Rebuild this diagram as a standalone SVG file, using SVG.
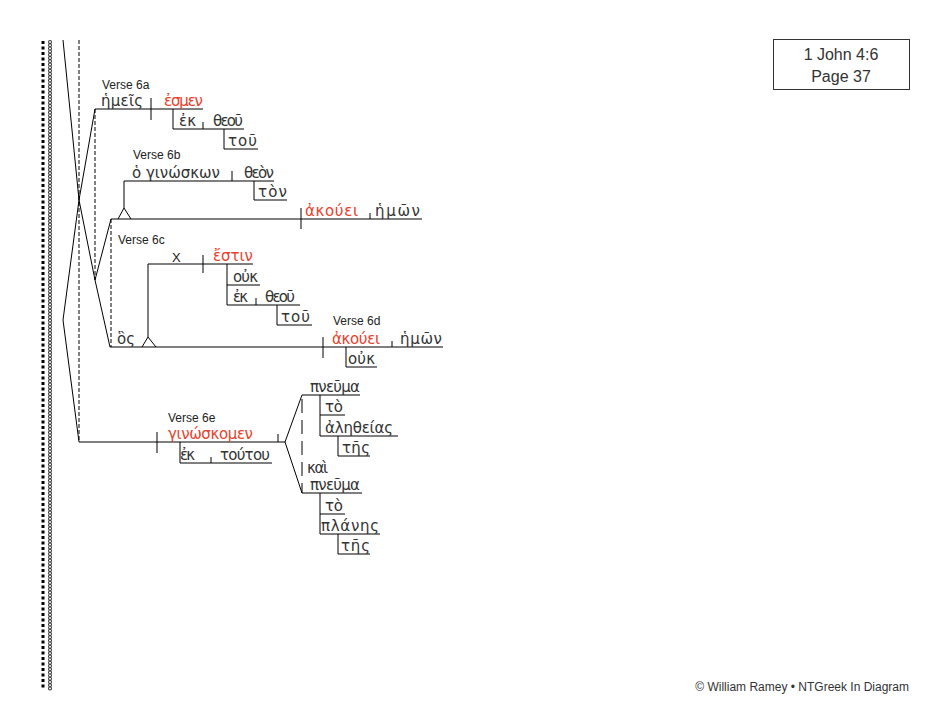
<svg xmlns="http://www.w3.org/2000/svg" width="949" height="727" viewBox="0 0 949 727">
<style>
.ln{stroke:#000;stroke-width:1;fill:none}
.dl{stroke:#000;stroke-width:1;fill:none;stroke-dasharray:4 2}
.dl2{stroke:#000;stroke-width:1;fill:none;stroke-dasharray:14 7}
.gk{font-family:"DejaVu Sans","Noto Sans",sans-serif;font-size:15px;fill:#333}
.rd{fill:#e8412c}
.vl{font-family:"Liberation Sans",Arial,sans-serif;font-size:12px;fill:#222}
.hd{font-family:"Liberation Sans",Arial,sans-serif;font-size:16px;fill:#333;text-anchor:middle}
.ft{font-family:"Liberation Sans",Arial,sans-serif;font-size:12px;fill:#333;text-anchor:end}
</style>
<rect width="949" height="727" fill="#fff"/>
<g id="border">
<line x1="43" y1="41" x2="43" y2="690" stroke="#000" stroke-width="3" stroke-dasharray="3 2.5"/>
<line x1="50" y1="42" x2="50" y2="690" stroke="#333" stroke-width="4" stroke-linecap="round" stroke-dasharray="0 3.2"/>
<line x1="50" y1="42" x2="50" y2="690" stroke="#fff" stroke-width="2" stroke-linecap="round" stroke-dasharray="0 3.2"/>
</g>
<g id="header">
<rect x="773.5" y="39.5" width="136" height="50" fill="#fff" stroke="#333"/>
<text class="hd" x="841" y="60">1 John 4:6</text>
<text class="hd" x="841" y="82">Page 37</text>
</g>
<g id="connectors">
<polyline class="ln" points="63,40 79,200 95,109 203,109"/>
<polyline class="ln" points="79,200 95,280 111,219 422,219"/>
<polyline class="ln" points="95,280 110,347 443,347"/>
<polyline class="ln" points="79,200 63,320 79,442 285,442"/>
<line class="dl" x1="79" y1="40" x2="79" y2="442"/>
<line class="dl" x1="95" y1="109" x2="95" y2="280"/>
<line class="dl" x1="111" y1="219" x2="111" y2="347"/>
</g>
<g id="verse6a">
<text class="vl" x="102" y="89">Verse 6a</text>
<text class="gk" x="101" y="106" textLength="42" lengthAdjust="spacing">ἡμεῖς</text>
<line class="ln" x1="151" y1="98" x2="151" y2="120"/>
<text class="gk rd" x="164" y="106" textLength="39" lengthAdjust="spacing">ἐσμεν</text>
<polyline class="ln" points="173,109 173,129 244,129"/>
<line class="ln" x1="203" y1="122" x2="203" y2="129"/>
<text class="gk" x="179" y="126" textLength="17" lengthAdjust="spacing">ἐκ</text>
<text class="gk" x="213" y="126" textLength="30" lengthAdjust="spacing">θεοῦ</text>
<polyline class="ln" points="224,129 224,149 258,149"/>
<text class="gk" x="228" y="146" textLength="29" lengthAdjust="spacing">τοῦ</text>
</g>
<g id="verse6b">
<text class="vl" x="133" y="159">Verse 6b</text>
<text class="gk" x="132" y="178" textLength="88" lengthAdjust="spacing">ὁ γινώσκων</text>
<line class="ln" x1="124" y1="181" x2="274" y2="181"/>
<line class="ln" x1="232" y1="171" x2="232" y2="181"/>
<text class="gk" x="244" y="178" textLength="30" lengthAdjust="spacing">θεὸν</text>
<polyline class="ln" points="254,181 254,200 287,200"/>
<text class="gk" x="258" y="197" textLength="29" lengthAdjust="spacing">τὸν</text>
<line class="ln" x1="124" y1="181" x2="124" y2="208"/>
<polyline class="ln" points="118,219 124,208 131,219"/>
<line class="ln" x1="301" y1="208" x2="301" y2="229"/>
<text class="gk rd" x="305" y="216" textLength="53" lengthAdjust="spacing">ἀκούει</text>
<line class="ln" x1="370" y1="213" x2="370" y2="219"/>
<text class="gk" x="375" y="216" textLength="45" lengthAdjust="spacing">ἡμῶν</text>
</g>
<g id="verse6c">
<text class="vl" x="118" y="244">Verse 6c</text>
<line class="ln" x1="148" y1="264" x2="253" y2="264"/>
<text class="vl" x="172" y="262" style="font-size:13px">X</text>
<line class="ln" x1="203" y1="255" x2="203" y2="273"/>
<text class="gk rd" x="213" y="261" textLength="40" lengthAdjust="spacing">ἔστιν</text>
<polyline class="ln" points="227,264 227,305 300,305"/>
<line class="ln" x1="227" y1="285" x2="260" y2="285"/>
<text class="gk" x="233" y="282" textLength="25" lengthAdjust="spacing">οὐκ</text>
<text class="gk" x="233" y="302" textLength="15" lengthAdjust="spacing">ἐκ</text>
<line class="ln" x1="256" y1="298" x2="256" y2="305"/>
<text class="gk" x="265" y="302" textLength="30" lengthAdjust="spacing">θεοῦ</text>
<polyline class="ln" points="277,305 277,325 312,325"/>
<text class="gk" x="281" y="322" textLength="29" lengthAdjust="spacing">τοῦ</text>
<line class="ln" x1="148" y1="264" x2="148" y2="337"/>
<polyline class="ln" points="142,347 148,337 156,347"/>
<text class="gk" x="117" y="344" textLength="18" lengthAdjust="spacing">ὃς</text>
</g>
<g id="verse6d">
<text class="vl" x="333" y="325">Verse 6d</text>
<line class="ln" x1="323" y1="337" x2="323" y2="358"/>
<text class="gk rd" x="332" y="344" textLength="48" lengthAdjust="spacing">ἀκούει</text>
<line class="ln" x1="392" y1="341" x2="392" y2="347"/>
<text class="gk" x="400" y="344" textLength="42" lengthAdjust="spacing">ἡμῶν</text>
<polyline class="ln" points="346,347 346,367 377,367"/>
<text class="gk" x="348" y="364" textLength="27" lengthAdjust="spacing">οὐκ</text>
</g>
<g id="verse6e">
<text class="vl" x="168" y="422">Verse 6e</text>
<line class="ln" x1="157" y1="432" x2="157" y2="453"/>
<text class="gk rd" x="168" y="439" textLength="85" lengthAdjust="spacing">γινώσκομεν</text>
<line class="ln" x1="278" y1="434" x2="278" y2="442"/>
<polyline class="ln" points="180,442 180,463 272,463"/>
<text class="gk" x="180" y="460" textLength="15" lengthAdjust="spacing">ἐκ</text>
<line class="ln" x1="211" y1="457" x2="211" y2="463"/>
<text class="gk" x="220" y="460" textLength="50" lengthAdjust="spacing">τούτου</text>
<polyline class="ln" points="302,395 285,442 302,493"/>
<line class="dl2" x1="302" y1="399" x2="302" y2="493"/>
<line class="ln" x1="302" y1="395" x2="360" y2="395"/>
<text class="gk" x="310" y="392" textLength="50" lengthAdjust="spacing">πνεῦμα</text>
<line class="ln" x1="320" y1="395" x2="320" y2="436"/>
<line class="ln" x1="320" y1="415" x2="345" y2="415"/>
<text class="gk" x="325" y="412" textLength="18" lengthAdjust="spacing">τὸ</text>
<line class="ln" x1="320" y1="436" x2="398" y2="436"/>
<text class="gk" x="325" y="433" textLength="68" lengthAdjust="spacing">ἀληθείας</text>
<polyline class="ln" points="338,436 338,456 370,456"/>
<text class="gk" x="342" y="453" textLength="28" lengthAdjust="spacing">τῆς</text>
<text class="gk" x="307" y="473" textLength="21" lengthAdjust="spacing">καὶ</text>
<line class="ln" x1="302" y1="493" x2="362" y2="493"/>
<text class="gk" x="310" y="490" textLength="50" lengthAdjust="spacing">πνεῦμα</text>
<line class="ln" x1="320" y1="493" x2="320" y2="534"/>
<line class="ln" x1="320" y1="514" x2="345" y2="514"/>
<text class="gk" x="325" y="511" textLength="18" lengthAdjust="spacing">τὸ</text>
<line class="ln" x1="320" y1="534" x2="380" y2="534"/>
<text class="gk" x="321" y="531" textLength="58" lengthAdjust="spacing">πλάνης</text>
<polyline class="ln" points="338,534 338,554 370,554"/>
<text class="gk" x="341" y="551" textLength="29" lengthAdjust="spacing">τῆς</text>
</g>
<g id="footer">
<text class="ft" x="909" y="691">© William Ramey • NTGreek In Diagram</text>
</g>
</svg>
